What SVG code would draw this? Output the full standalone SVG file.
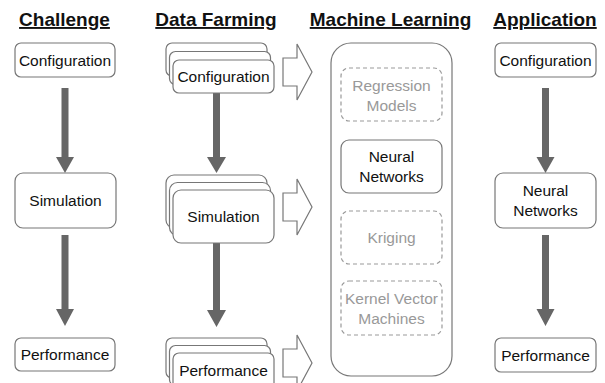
<svg xmlns="http://www.w3.org/2000/svg" width="605" height="383" viewBox="0 0 605 383">
<style>
.title{font-family:"Liberation Sans",Arial,sans-serif;font-weight:bold;font-size:19px;fill:#111;text-anchor:middle;text-decoration:underline}
.box{fill:#fff;stroke:#777;stroke-width:1.2}
.dash{fill:#fff;stroke:#999;stroke-width:1.2;stroke-dasharray:4 3}
.lbl{font-family:"Liberation Sans",Arial,sans-serif;font-size:15.5px;fill:#111;text-anchor:middle}
.glbl{font-family:"Liberation Sans",Arial,sans-serif;font-size:15.5px;fill:#999;text-anchor:middle}
.arr{fill:#666}
.hol{fill:#fff;stroke:#777;stroke-width:1.2}
</style>
<rect width="605" height="383" fill="#fff"/>
<g id="titles">
<text class="title" x="64.5" y="26">Challenge</text>
<text class="title" x="216" y="26">Data Farming</text>
<text class="title" x="390.5" y="26">Machine Learning</text>
<text class="title" x="545" y="26">Application</text>
</g>
<g id="connectors">
<polygon class="arr" points="61.5,88 68.5,88 68.5,157 74,157 65,173 56,157 61.5,157"/>
<polygon class="arr" points="61.5,235 68.5,235 68.5,309 74,309 65,326 56,309 61.5,309"/>
<polygon class="arr" points="213,93 220,93 220,157 226,157 216.5,173 207,157 213,157"/>
<polygon class="arr" points="213,243 220,243 220,310 226,310 216.5,327 207,310 213,310"/>
<polygon class="arr" points="542,88 549,88 549,157 554.5,157 545.5,173 536.5,157 542,157"/>
<polygon class="arr" points="542,235 549,235 549,309 554.5,309 545.5,326 536.5,309 542,309"/>
<polygon class="hol" points="283,58 297,58 297,44 312,72 297,100 297,86 283,86"/>
<polygon class="hol" points="283,193 297,193 297,179 312,207 297,235 297,221 283,221"/>
<polygon class="hol" points="283,349 297,349 297,335 312,363 297,391 297,377 283,377"/>
</g>
<g id="ch-config"><rect class="box" x="15" y="43" width="100" height="34" rx="6"/><text class="lbl" x="65" y="65.5">Configuration</text></g>
<g id="ch-sim"><rect class="box" x="15" y="173" width="101" height="55" rx="8"/><text class="lbl" x="65.5" y="206">Simulation</text></g>
<g id="ch-perf"><rect class="box" x="15" y="338" width="100" height="33" rx="6"/><text class="lbl" x="65" y="360">Performance</text></g>
<g id="df-config">
<rect class="box" x="166" y="43" width="101" height="33" rx="6"/>
<rect class="box" x="169.5" y="51.5" width="101" height="33" rx="6"/>
<rect class="box" x="173" y="60" width="101" height="33" rx="6"/>
<text class="lbl" x="223.5" y="82">Configuration</text></g>
<g id="df-sim">
<rect class="box" x="166" y="175" width="101" height="53" rx="8"/>
<rect class="box" x="169.5" y="182.5" width="101" height="53" rx="8"/>
<rect class="box" x="173" y="190" width="101" height="53" rx="8"/>
<text class="lbl" x="223.5" y="222">Simulation</text></g>
<g id="df-perf">
<rect class="box" x="166" y="338" width="101" height="40" rx="6"/>
<rect class="box" x="169.5" y="345.5" width="101" height="40" rx="6"/>
<rect class="box" x="173" y="353" width="101" height="40" rx="6"/>
<text class="lbl" x="223.5" y="376">Performance</text></g>
<g id="ml-container"><rect class="box" x="331" y="43" width="121" height="333" rx="20"/></g>
<g id="ml-regression"><rect class="dash" x="341" y="68" width="101" height="53" rx="8"/><text class="glbl" x="391.5" y="91">Regression</text><text class="glbl" x="391.5" y="111">Models</text></g>
<g id="ml-nn"><rect class="box" x="341" y="140" width="101" height="53" rx="8"/><text class="lbl" x="391.5" y="162">Neural</text><text class="lbl" x="391.5" y="182">Networks</text></g>
<g id="ml-kriging"><rect class="dash" x="341" y="211" width="101" height="53" rx="8"/><text class="glbl" x="391.5" y="243">Kriging</text></g>
<g id="ml-kvm"><rect class="dash" x="341" y="281" width="101" height="54" rx="8"/><text class="glbl" x="391.5" y="304">Kernel Vector</text><text class="glbl" x="391.5" y="324">Machines</text></g>
<g id="app-config"><rect class="box" x="495" y="43" width="101" height="34" rx="6"/><text class="lbl" x="545.5" y="65.5">Configuration</text></g>
<g id="app-nn"><rect class="box" x="495" y="173" width="101" height="55" rx="8"/><text class="lbl" x="545.5" y="196">Neural</text><text class="lbl" x="545.5" y="216">Networks</text></g>
<g id="app-perf"><rect class="box" x="495" y="338" width="101" height="34" rx="6"/><text class="lbl" x="545.5" y="360.5">Performance</text></g>
</svg>
